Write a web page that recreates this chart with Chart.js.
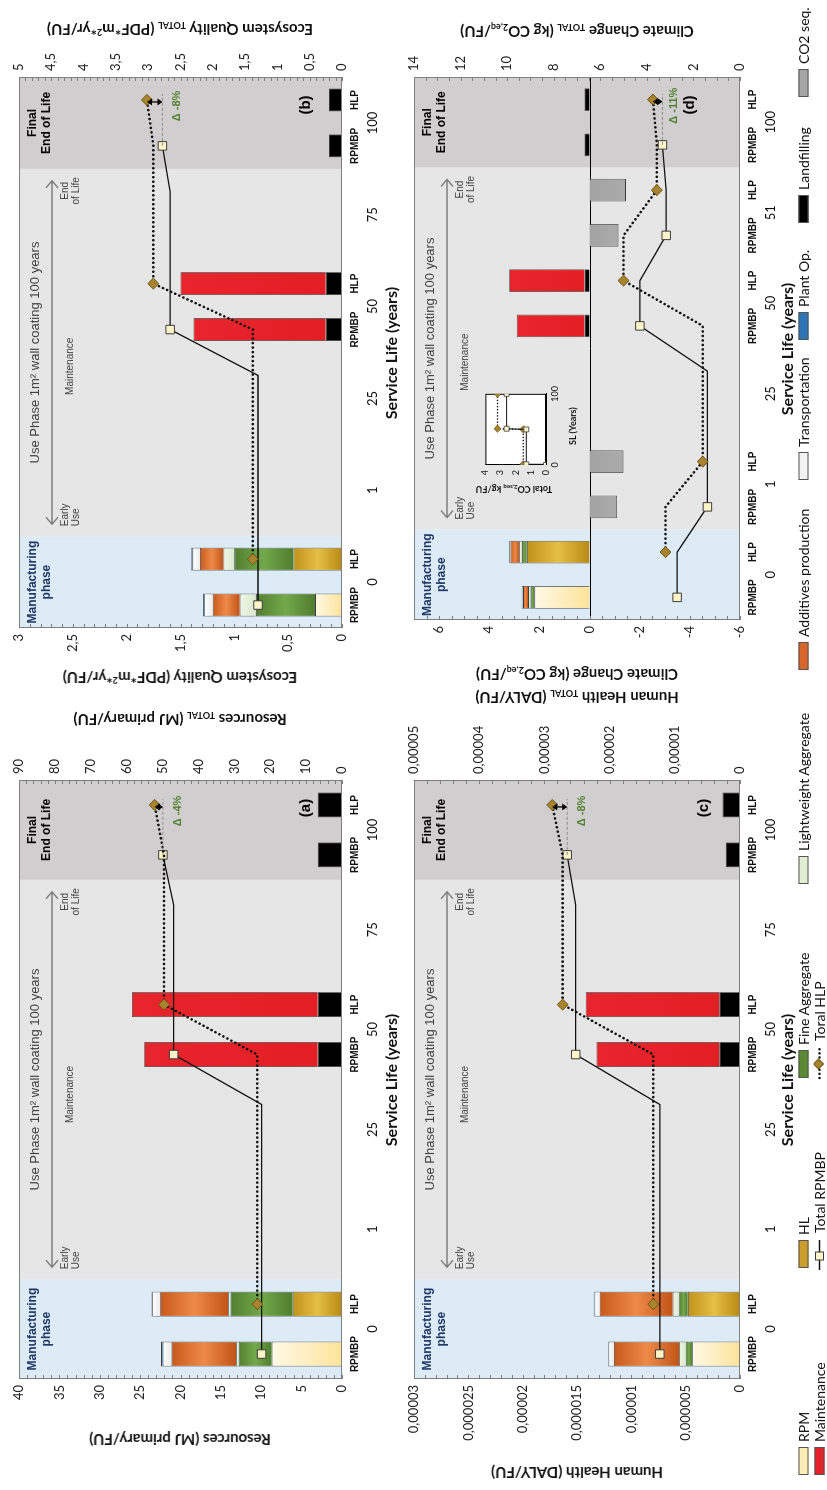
<!DOCTYPE html>
<html>
<head>
<meta charset="utf-8">
<script src="https://cdn.jsdelivr.net/npm/chart.js@4.4.1/dist/chart.umd.min.js"></script>
<style>
  html, body { margin: 0; padding: 0; background: #fff; width: 827px; height: 1490px; overflow: hidden; }
  /* the figure is laid out landscape and turned a quarter turn counter-clockwise */
  #figure { position: absolute; left: 0; top: 0; width: 1490px; height: 827px;
            transform-origin: 0 0; transform: translate(0px, 1490px) rotate(-90deg); background: #fff; }
  #figure canvas { position: absolute; }
  .ytitle { position: absolute; transform: translate(-50%, -50%) rotate(-90deg); white-space: nowrap;
            font-family: Lato, "Open Sans", sans-serif; font-weight: 700; font-size: 15px; color: #111; }
  .ytitle sub { font-size: 9px; vertical-align: -2px; }
  .ytitle sup { font-size: 9px; vertical-align: 5px; }
  .xtitle { position: absolute; transform: translate(-50%, -50%); white-space: nowrap;
            font-family: Lato, "Open Sans", sans-serif; font-weight: 700; font-size: 16px; color: #111; }
  .inset-t { position: absolute; white-space: nowrap; font-family: Lato, sans-serif; font-weight: 700; font-size: 9px; color: #111; }
  .inset-t sub { font-size: 6px; vertical-align: -1px; }
  .leg { position: absolute; display: flex; align-items: center; white-space: nowrap;
         font-family: Lato, "Open Sans", sans-serif; font-size: 14px; color: #111; transform: translateY(-50%); }
  .leg .sw { display: inline-block; width: 28px; height: 10px; border: 1px solid #555; margin-right: 5px; box-sizing: border-box; }
  .leg svg { margin-right: 5px; }
</style>
</head>
<body>
<div id="figure"></div>
<script>
const _ = null;

// ---- category structure: every service year holds an RPMBP slot and an HLP slot ----
const slotLabels   = ['RPMBP','HLP','','','','','RPMBP','HLP','','','RPMBP','HLP'];
const slotLabelsCC = ['RPMBP','HLP','RPMBP','HLP','','','RPMBP','HLP','RPMBP','HLP','RPMBP','HLP'];
const yearLabels   = ['0','1','25','50','75','100'];
const yearLabelsCC = ['0','1','25','50','51','100'];

// ---- (a) Resources, MJ primary/FU ----
const resRPM    = [8.7, _, _, _, _, _, _, _, _, _, _, _];
const resHL     = [_, 6.1, _, _, _, _, _, _, _, _, _, _];
const resFine   = [4.1, 7.7, _, _, _, _, _, _, _, _, _, _];
const resLight  = [0.3, 0.3, _, _, _, _, _, _, _, _, _, _];
const resAdd    = [8.0, 8.4, _, _, _, _, _, _, _, _, _, _];
const resTrans  = [1.1, 1.0, _, _, _, _, _, _, _, _, _, _];
const resPlant  = [0.2, 0.1, _, _, _, _, _, _, _, _, _, _];
const resMaint  = [_, _, _, _, _, _, 21.5, 23.0, _, _, _, _];
const resLand   = [_, _, _, _, _, _, 3.0, 3.0, _, _, 3.0, 3.0];
const resTotRPMBP = [22.4, 22.4, 22.4, 22.4, 22.4, 22.4, 46.9, 46.9, 46.9, 46.9, 49.9, _];
const resTotHLP   = [_, 23.6, 23.6, 23.6, 23.6, 23.6, 23.6, 49.6, 49.6, 49.6, 49.6, 52.2];

// ---- (b) Ecosystem Quality, PDF*m2*yr/FU ----
const eqRPM    = [0.25, _, _, _, _, _, _, _, _, _, _, _];
const eqHL     = [_, 0.45, _, _, _, _, _, _, _, _, _, _];
const eqFine   = [0.55, 0.55, _, _, _, _, _, _, _, _, _, _];
const eqLight  = [0.15, 0.10, _, _, _, _, _, _, _, _, _, _];
const eqAdd    = [0.25, 0.22, _, _, _, _, _, _, _, _, _, _];
const eqTrans  = [0.08, 0.07, _, _, _, _, _, _, _, _, _, _];
const eqPlant  = [0.01, 0.01, _, _, _, _, _, _, _, _, _, _];
const eqMaint  = [_, _, _, _, _, _, 1.23, 1.35, _, _, _, _];
const eqLand   = [_, _, _, _, _, _, 0.15, 0.15, _, _, 0.12, 0.12];
const eqTotRPMBP = [1.30, 1.30, 1.30, 1.30, 1.30, 1.30, 2.66, 2.66, 2.66, 2.66, 2.78, _];
const eqTotHLP   = [_, 1.38, 1.38, 1.38, 1.38, 1.38, 1.38, 2.92, 2.92, 2.92, 2.92, 3.02];

// ---- (c) Human Health, DALY/FU ----
const hhRPM    = [4.4e-6, _, _, _, _, _, _, _, _, _, _, _];
const hhHL     = [_, 4.8e-6, _, _, _, _, _, _, _, _, _, _];
const hhFine   = [0.6e-6, 0.8e-6, _, _, _, _, _, _, _, _, _, _];
const hhLight  = [0.6e-6, 0.6e-6, _, _, _, _, _, _, _, _, _, _];
const hhAdd    = [6.0e-6, 6.7e-6, _, _, _, _, _, _, _, _, _, _];
const hhTrans  = [0.5e-6, 0.5e-6, _, _, _, _, _, _, _, _, _, _];
const hhPlant  = [0.05e-6, 0.05e-6, _, _, _, _, _, _, _, _, _, _];
const hhMaint  = [_, _, _, _, _, _, 1.13e-5, 1.23e-5, _, _, _, _];
const hhLand   = [_, _, _, _, _, _, 1.9e-6, 1.9e-6, _, _, 1.3e-6, 1.6e-6];
const hhTotRPMBP = [1.23e-5, 1.23e-5, 1.23e-5, 1.23e-5, 1.23e-5, 1.23e-5, 2.52e-5, 2.52e-5, 2.52e-5, 2.52e-5, 2.65e-5, _];
const hhTotHLP   = [_, 1.33e-5, 1.33e-5, 1.33e-5, 1.33e-5, 1.33e-5, 1.33e-5, 2.72e-5, 2.72e-5, 2.72e-5, 2.72e-5, 2.88e-5];

// ---- (d) Climate Change, kg CO2 eq/FU ----
const ccRPM    = [2.2, _, _, _, _, _, _, _, _, _, _, _];
const ccHL     = [_, 2.5, _, _, _, _, _, _, _, _, _, _];
const ccFine   = [0.15, 0.2, _, _, _, _, _, _, _, _, _, _];
const ccLight  = [0.1, 0.1, _, _, _, _, _, _, _, _, _, _];
const ccAdd    = [0.2, 0.35, _, _, _, _, _, _, _, _, _, _];
const ccTrans  = [0.05, 0.05, _, _, _, _, _, _, _, _, _, _];
const ccMaint  = [_, _, _, _, _, _, 2.7, 3.0, _, _, _, _];
const ccLand   = [_, _, _, _, _, _, 0.2, 0.2, _, _, 0.2, 0.2];
const ccSeq    = [_, _, -1.1, -1.35, _, _, _, _, -1.15, -1.45, _, _];
const ccTotRPMBP = [2.7, 2.7, 1.4, 1.4, 1.4, 1.4, 4.3, 4.3, 3.17, 3.17, 3.33, _];
const ccTotHLP   = [_, 3.2, 3.2, 1.6, 1.6, 1.6, 1.6, 5.0, 5.0, 3.57, 3.57, 3.74];

// ---- inset: cumulative CO2 sequestration ----
const insetSL     = [0, 1, 50, 51, 100];
const insetRPMBP  = [0, 1.3, 1.3, 2.6, 2.6];
const insetHLP    = [0, 1.5, 1.5, 3.2, 3.2];

const deltaText = { a: 'Δ -4%', b: 'Δ -8%', c: 'Δ -8%', d: 'Δ -11%' };

// flat colours (legend) and shaded stops for the bar segments (from base to top)
const COL = {
  rpm: '#fbedb4', hl: '#cc9d2c', fine: '#5a8b34', light: '#e2eed3', add: '#d8662b',
  trans: '#f2f2f2', plant: '#2f74b5', maint: '#e5212a', land: '#000000', seq: '#a5a5a5'
};
const SHADE = {
  rpm: ['#fde39a', '#fff9e6'], hl: ['#b98a12', '#e6bf45', '#c0921a'], fine: ['#4f7d2e', '#73a84b', '#517f30'],
  light: ['#dbe9cb', '#eef5e6'], add: ['#c25418', '#ee8a47', '#c8591c'], trans: ['#ececec', '#ffffff'],
  plant: ['#2f74b5', '#4a8bd0'], maint: ['#e31f26', '#e8252c'], land: ['#000', '#000'], seq: ['#a3a3a3', '#ababab']
};

const fig = document.getElementById('figure');

function fmt(v) {
  return String(parseFloat(v.toFixed(8))).replace('.', ',');
}

function shaded(key) {
  const stops = SHADE[key];
  return c => {
    const el = c.element;
    if (!el || typeof el.y !== 'number' || typeof el.base !== 'number' || isNaN(el.y) || el.y === el.base) return COL[key];
    const g = c.chart.ctx.createLinearGradient(0, el.base, 0, el.y);
    stops.forEach((s, i) => g.addColorStop(i / (stops.length - 1), s));
    return g;
  };
}

// draws the life-cycle phase bands, their captions, frame, inward tick marks and the delta marker
const phasePlugin = {
  id: 'phases',
  beforeDatasetsDraw(chart, args, o) {
    const { ctx, chartArea: a, scales } = chart;
    const sw = (a.right - a.left) / 12;
    const edge = i => a.left + i * sw;
    const top = a.top, h = a.bottom - a.top;
    ctx.save();
    ctx.fillStyle = '#ddebf7'; ctx.fillRect(a.left, top, edge(2) - a.left, h);
    ctx.fillStyle = '#e7e6e6'; ctx.fillRect(edge(2), top, edge(10) - edge(2), h);
    ctx.fillStyle = '#d0cece'; ctx.fillRect(edge(10), top, a.right - edge(10), h);

    ctx.textAlign = 'center'; ctx.textBaseline = 'middle';
    ctx.fillStyle = '#1f3864'; ctx.font = 'bold 12px "Liberation Sans", Arial, sans-serif';
    const mc = (a.left + edge(2)) / 2;
    ctx.fillText('Manufacturing', mc, top + 14);
    ctx.fillText('phase', mc, top + 28);

    const uc = (edge(2) + edge(10)) / 2;
    ctx.fillStyle = '#404040'; ctx.font = '13px "Liberation Sans", Arial, sans-serif';
    ctx.fillText('Use Phase 1m² wall coating 100 years', uc, top + 16);

    // double-headed arrow across the use phase
    const ay = top + 33, ax1 = edge(2) + 12, ax2 = edge(10) - 12;
    ctx.strokeStyle = '#7f7f7f'; ctx.lineWidth = 1.5;
    ctx.beginPath(); ctx.moveTo(ax1, ay); ctx.lineTo(ax2, ay);
    ctx.moveTo(ax1 + 7, ay - 6); ctx.lineTo(ax1, ay); ctx.lineTo(ax1 + 7, ay + 6);
    ctx.moveTo(ax2 - 7, ay - 6); ctx.lineTo(ax2, ay); ctx.lineTo(ax2 - 7, ay + 6);
    ctx.stroke();

    ctx.fillStyle = '#404040'; ctx.font = '10px "Liberation Sans", Arial, sans-serif';
    ctx.textAlign = 'left';
    ctx.fillText('Early', edge(2) + 10, top + 46);
    ctx.fillText('Use', edge(2) + 10, top + 57);
    ctx.textAlign = 'center';
    ctx.fillText('Maintenance', edge(6) - 0.3 * sw, top + 51);
    ctx.fillText('End', edge(10) - 22, top + 46);
    ctx.fillText('of Life', edge(10) - 22, top + 57);

    ctx.fillStyle = '#000'; ctx.font = 'bold 12px "Liberation Sans", Arial, sans-serif';
    const fc = (edge(10) + a.right) / 2;
    ctx.fillText('Final', fc, top + 14);
    ctx.fillText('End of Life', fc, top + 28);

    ctx.font = 'bold 15px "Liberation Sans", Arial, sans-serif';
    ctx.fillText('(' + o.letter + ')', a.right - 28, a.bottom - o.letterLift);

    if (o.zeroLine) {
      const y0 = scales.y.getPixelForValue(0);
      ctx.strokeStyle = '#000'; ctx.lineWidth = 1;
      ctx.beginPath(); ctx.moveTo(a.left, Math.round(y0) + 0.5); ctx.lineTo(a.right, Math.round(y0) + 0.5); ctx.stroke();
    }
    ctx.restore();
  },
  afterDatasetsDraw(chart, args, o) {
    const { ctx, chartArea: a, scales } = chart;
    ctx.save();
    ctx.strokeStyle = '#7f7f7f'; ctx.lineWidth = 1;
    ctx.strokeRect(a.left + 0.5, a.top + 0.5, a.right - a.left - 1, a.bottom - a.top - 1);
    // inward tick marks on both value axes
    ctx.beginPath();
    const yl = scales.y, yr = scales.y2;
    for (let k = 0; ; k++) {
      const v = yl.min + k * o.minorL; if (v > yl.max + 1e-12) break;
      const py = Math.round(yl.getPixelForValue(v)) + 0.5;
      ctx.moveTo(a.left, py); ctx.lineTo(a.left + 4, py);
    }
    for (let k = 0; ; k++) {
      const v = yr.min + k * o.minorR; if (v > yr.max + 1e-12) break;
      const py = Math.round(yr.getPixelForValue(v)) + 0.5;
      ctx.moveTo(a.right - 4, py); ctx.lineTo(a.right, py);
    }
    ctx.stroke();

    // difference between the two end-of-life totals
    const x = scales.x;
    const xR = x.getPixelForValue(10), xH = x.getPixelForValue(11);
    const yR = yr.getPixelForValue(o.totR[10]), yH = yr.getPixelForValue(o.totH[11]);
    ctx.strokeStyle = '#8c8c8c'; ctx.setLineDash([3, 2]);
    ctx.beginPath(); ctx.moveTo(xR, yR); ctx.lineTo(xH + 6, yR); ctx.stroke();
    ctx.setLineDash([]);
    const xa = xH - 2;
    ctx.strokeStyle = '#000'; ctx.fillStyle = '#000'; ctx.lineWidth = 1.3;
    ctx.beginPath(); ctx.moveTo(xa, yH + 4); ctx.lineTo(xa, yR - 4); ctx.stroke();
    ctx.beginPath(); ctx.moveTo(xa, yH); ctx.lineTo(xa - 3.5, yH + 5); ctx.lineTo(xa + 3.5, yH + 5); ctx.closePath(); ctx.fill();
    ctx.beginPath(); ctx.moveTo(xa, yR); ctx.lineTo(xa - 3.5, yR - 5); ctx.lineTo(xa + 3.5, yR - 5); ctx.closePath(); ctx.fill();
    ctx.fillStyle = '#548235'; ctx.font = 'bold 11px "Liberation Sans", Arial, sans-serif';
    ctx.textAlign = 'center'; ctx.textBaseline = 'middle';
    ctx.fillText(o.delta, xa - 4, yR + o.deltaGap);
    ctx.restore();
  }
};

function addText(cls, html, x, y) {
  const d = document.createElement('div');
  d.className = cls; d.innerHTML = html;
  d.style.left = x + 'px'; d.style.top = y + 'px';
  fig.appendChild(d);
  return d;
}

function valueAxis(pos, min, max, step, width) {
  return {
    type: 'linear', position: pos, min, max,
    grid: { display: false, drawTicks: false }, border: { display: false },
    ticks: { stepSize: step, autoSkip: false, includeBounds: false, padding: 6, color: '#222',
             font: { family: 'Lato', size: 13 }, callback: v => fmt(v) },
    afterFit: s => { s.width = width; }
  };
}

function buildPanel(p) {
  const cv = document.createElement('canvas');
  cv.width = p.w; cv.height = p.h;
  Object.assign(cv.style, { left: p.x + 'px', top: p.y + 'px', width: p.w + 'px', height: p.h + 'px' });
  fig.appendChild(cv);

  const barDefs = [
    ['Landfilling', p.land, 'land'], ['RPM', p.rpm, 'rpm'], ['HL', p.hl, 'hl'],
    ['Fine Aggregate', p.fine, 'fine'], ['Lightweight Aggregate', p.light, 'light'],
    ['Additives production', p.add, 'add'], ['Transportation', p.trans, 'trans'],
    ['Plant Op.', p.plant, 'plant'], ['Maintenance', p.maint, 'maint'], ['CO2 seq.', p.seq, 'seq']
  ].filter(b => b[1]);
  const datasets = barDefs.map(([label, data, key]) => ({
    type: 'bar', label, data, backgroundColor: shaded(key), borderColor: '#3c3c3c', borderWidth: 0.8,
    xAxisID: 'x', yAxisID: 'y', stack: 's', barPercentage: 0.5, categoryPercentage: 1, order: 0
  }));
  datasets.push({
    type: 'line', label: 'Total RPMBP', data: p.totR, xAxisID: 'x', yAxisID: 'y2', order: -1,
    borderColor: '#111', borderWidth: 1.3, tension: 0, spanGaps: false,
    pointStyle: 'rect', pointRadius: c => (p.sub[c.dataIndex] === 'RPMBP' ? 6 : 0),
    pointBackgroundColor: '#fff5c9', pointBorderColor: '#3c3c3c', pointBorderWidth: 1
  });
  datasets.push({
    type: 'line', label: 'Total HLP', data: p.totH, xAxisID: 'x', yAxisID: 'y2', order: -2,
    borderColor: '#111', borderWidth: 2.6, borderDash: [0.1, 4.4], borderCapStyle: 'round', tension: 0,
    pointStyle: 'rectRot', pointRadius: c => (p.sub[c.dataIndex] === 'HLP' ? 5.5 : 0),
    pointBackgroundColor: '#a8842e', pointBorderColor: '#6f5314', pointBorderWidth: 1
  });

  const xH = 22;
  const chart = new Chart(cv, {
    data: { labels: p.sub, datasets },
    options: {
      responsive: false, animation: false, devicePixelRatio: 1,
      layout: { padding: { top: p.area.top, left: 0, right: 0, bottom: 0 } },
      plugins: {
        legend: { display: false }, tooltip: { enabled: false },
        phases: { letter: p.letter, letterLift: p.letterLift, zeroLine: !!p.zeroLine, deltaGap: p.deltaGap,
                  minorL: p.minorL, minorR: p.minorR, totR: p.totR, totH: p.totH, delta: p.delta }
      },
      scales: {
        x: { type: 'category', stacked: true, offset: true, weight: 0,
             grid: { display: false, drawTicks: false }, border: { display: false },
             ticks: { autoSkip: false, maxRotation: 0, padding: 7, color: '#111',
                      font: { family: 'Liberation Sans', weight: 'bold', size: 10 } },
             afterFit: s => { s.height = xH; } },
        x2: { type: 'category', labels: p.years, position: 'bottom', offset: true, weight: 1,
              grid: { display: false, drawTicks: false }, border: { display: false },
              ticks: { autoSkip: false, maxRotation: 0, padding: 1, color: '#111', font: { family: 'Lato', size: 13 } },
              afterFit: s => { s.height = p.h - p.area.bottom - xH; } },
        y: Object.assign(valueAxis('left', p.yMin, p.yMax, p.yStep, p.area.left), { stacked: true }),
        y2: valueAxis('right', p.y2Min, p.y2Max, p.y2Step, p.w - p.area.right)
      }
    },
    plugins: [phasePlugin]
  });
  chart.update(); // second pass lets the segment shading use the laid-out bar geometry
}

// ---- the four panels ----
buildPanel({ letter: 'a', x: 0, y: 0, w: 800, h: 410, area: { left: 111, right: 710, top: 19, bottom: 342 },
  sub: slotLabels, years: yearLabels, rpm: resRPM, hl: resHL, fine: resFine, light: resLight, add: resAdd,
  trans: resTrans, plant: resPlant, maint: resMaint, land: resLand, totR: resTotRPMBP, totH: resTotHLP,
  yMin: 0, yMax: 40, yStep: 5, minorL: 1, y2Min: 0, y2Max: 90, y2Step: 10, minorR: 2,
  letterLift: 36, deltaGap: 15, delta: deltaText.a });

buildPanel({ letter: 'b', x: 790, y: 0, w: 700, h: 410, area: { left: 72, right: 623, top: 19, bottom: 342 },
  sub: slotLabels, years: yearLabels, rpm: eqRPM, hl: eqHL, fine: eqFine, light: eqLight, add: eqAdd,
  trans: eqTrans, plant: eqPlant, maint: eqMaint, land: eqLand, totR: eqTotRPMBP, totH: eqTotHLP,
  yMin: 0, yMax: 3, yStep: 0.5, minorL: 0.1, y2Min: 0, y2Max: 5, y2Step: 0.5, minorR: 0.1,
  letterLift: 36, deltaGap: 15, delta: deltaText.b });

buildPanel({ letter: 'c', x: 0, y: 395, w: 800, h: 410, area: { left: 111, right: 710, top: 19, bottom: 345 },
  sub: slotLabels, years: yearLabels, rpm: hhRPM, hl: hhHL, fine: hhFine, light: hhLight, add: hhAdd,
  trans: hhTrans, plant: hhPlant, maint: hhMaint, land: hhLand, totR: hhTotRPMBP, totH: hhTotHLP,
  yMin: 0, yMax: 0.00003, yStep: 0.000005, minorL: 0.000001, y2Min: 0, y2Max: 0.00005, y2Step: 0.00001, minorR: 0.000002,
  letterLift: 36, deltaGap: 15, delta: deltaText.c });

buildPanel({ letter: 'd', x: 790, y: 395, w: 700, h: 410, area: { left: 80, right: 623, top: 19, bottom: 345 },
  sub: slotLabelsCC, years: yearLabelsCC, rpm: ccRPM, hl: ccHL, fine: ccFine, light: ccLight, add: ccAdd,
  trans: ccTrans, maint: ccMaint, land: ccLand, seq: ccSeq, totR: ccTotRPMBP, totH: ccTotHLP,
  yMin: -6, yMax: 7, yStep: 2, minorL: 0.5, y2Min: 0, y2Max: 14, y2Step: 2, minorR: 0.5,
  zeroLine: true, letterLift: 50, deltaGap: 12, delta: deltaText.d });

// ---- axis titles ----
addText('ytitle', 'Resources (MJ primary/FU)', 50, 180);
addText('ytitle', 'Resources <sub>TOTAL</sub> (MJ primary/FU)', 770, 180);
addText('ytitle', 'Ecosystem Quality (PDF*m<sup>2</sup>*yr/FU)', 812, 180);
addText('ytitle', 'Ecosystem Quality <sub>TOTAL</sub> (PDF*m<sup>2</sup>*yr/FU)', 1460, 180);
addText('ytitle', 'Human Health (DALY/FU)', 17, 577);
addText('ytitle', 'Human Health <sub>TOTAL</sub> (DALY/FU)', 792, 577);
addText('ytitle', 'Climate Change (kg CO<sub>2,eq</sub>/FU)', 815, 577);
addText('ytitle', 'Climate Change <sub>TOTAL</sub> (kg CO<sub>2,eq</sub>/FU)', 1458, 577);
addText('xtitle', 'Service Life (years)', 410, 390);
addText('xtitle', 'Service Life (years)', 1137, 390);
addText('xtitle', 'Service Life (years)', 410, 786);
addText('xtitle', 'Service Life (years)', 1141, 786);

// ---- inset: total CO2 sequestered over the service life ----
(function () {
  const cv = document.createElement('canvas');
  const box = { x: 995, y: 478, w: 110, h: 92 };
  cv.width = box.w; cv.height = box.h;
  Object.assign(cv.style, { left: box.x + 'px', top: box.y + 'px', width: box.w + 'px', height: box.h + 'px' });
  fig.appendChild(cv);
  const pts = ys => insetSL.map((v, i) => ({ x: v, y: ys[i] }));
  new Chart(cv, {
    type: 'line',
    data: { datasets: [
      { data: pts(insetRPMBP), borderColor: '#111', borderWidth: 1, pointStyle: 'rect', pointRadius: 3.5,
        pointBackgroundColor: '#fff5c9', pointBorderColor: '#3c3c3c', pointBorderWidth: 0.8 },
      { data: pts(insetHLP), borderColor: '#111', borderWidth: 1.6, borderDash: [0.1, 3], borderCapStyle: 'round',
        pointStyle: 'rectRot', pointRadius: 3.5, pointBackgroundColor: '#a8842e', pointBorderColor: '#6f5314', pointBorderWidth: 0.8 }
    ] },
    options: {
      responsive: false, animation: false, devicePixelRatio: 1,
      layout: { padding: { top: 4, right: 6 } },
      plugins: { legend: { display: false }, tooltip: { enabled: false } },
      scales: {
        x: { type: 'linear', min: 0, max: 100, grid: { display: false, drawTicks: true, tickLength: 3, color: '#000' },
             border: { color: '#000' }, ticks: { stepSize: 100, padding: 1, color: '#111', font: { family: 'Lato', size: 9 } },
             afterFit: s => { s.height = 24; } },
        y: { min: 0, max: 4, grid: { display: false, drawTicks: true, tickLength: 3, color: '#000' },
             border: { color: '#000' }, ticks: { stepSize: 1, padding: 2, color: '#111', font: { family: 'Lato', size: 9 } },
             afterFit: s => { s.width = 30; } }
      }
    },
    plugins: [{
      id: 'insetBox',
      beforeDatasetsDraw(chart) {
        const { ctx, chartArea: a } = chart;
        ctx.save(); ctx.fillStyle = '#fff'; ctx.fillRect(a.left, a.top, a.right - a.left, a.bottom - a.top);
        ctx.strokeStyle = '#000'; ctx.lineWidth = 1; ctx.strokeRect(a.left + 0.5, a.top + 0.5, a.right - a.left - 1, a.bottom - a.top - 1);
        ctx.restore();
      }
    }]
  });
  addText('inset-t', 'SL (Years)', box.x + 50, box.y + box.h - 3);
  const t = addText('inset-t', 'Total CO<sub>2,seq</sub> kg/FU', box.x + 5, box.y + 36);
  t.style.transform = 'translate(-50%, -50%) rotate(-90deg)';
})();

// ---- legend ----
function legendItem(x, y, label, key) {
  const d = document.createElement('div');
  d.className = 'leg'; d.style.left = x + 'px'; d.style.top = y + 'px';
  d.innerHTML = key + '<span>' + label + '</span>';
  fig.appendChild(d);
}
const sw = c => '<span class="sw" style="background:' + c + '"></span>';
const lineKey = dotted => dotted
  ? '<svg width="34" height="12"><line x1="2" y1="6" x2="32" y2="6" stroke="#111" stroke-width="2.4" stroke-dasharray="0.1 4" stroke-linecap="round"/><rect x="12.5" y="1.5" width="7" height="7" transform="rotate(45 16 5)" fill="#a8842e" stroke="#6f5314"/></svg>'
  : '<svg width="34" height="12"><line x1="2" y1="6" x2="32" y2="6" stroke="#111" stroke-width="1.3"/><rect x="12" y="2" width="8" height="8" fill="#fff5c9" stroke="#3c3c3c"/></svg>';
legendItem(15, 803, 'RPM', sw(COL.rpm));
legendItem(222, 803, 'HL', sw(COL.hl));
legendItem(412, 803, 'Fine Aggregate', sw(COL.fine));
legendItem(606, 803, 'Lightweight Aggregate', sw(COL.light));
legendItem(820, 803, 'Additives production', sw(COL.add));
legendItem(1010, 803, 'Transportation', sw(COL.trans));
legendItem(1150, 803, 'Plant Op.', sw(COL.plant));
legendItem(1267, 803, 'Landfilling', sw(COL.land));
legendItem(1393, 803, 'CO2 seq.', sw(COL.seq));
legendItem(15, 819, 'Maintenance', sw(COL.maint));
legendItem(218, 819, 'Total RPMBP', lineKey(false));
legendItem(410, 819, 'Toral HLP', lineKey(true));
</script>
</body>
</html>
